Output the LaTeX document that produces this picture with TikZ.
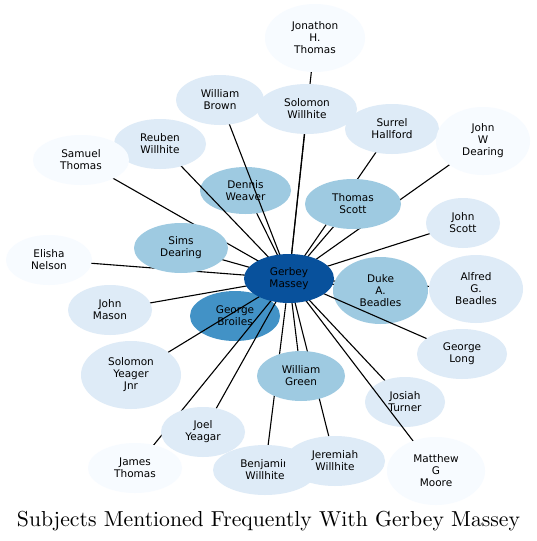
\documentclass[tikz,border=0pt]{standalone}
\usepackage{fontspec}
\setmainfont{Latin Modern Roman}
\newfontfamily\nodefont{DejaVu Sans}
\usetikzlibrary{shapes.geometric}
\definecolor{cA}{HTML}{F7FBFF}
\definecolor{cB}{HTML}{DEEBF7}
\definecolor{cC}{HTML}{9ECAE1}
\definecolor{cD}{HTML}{4292C6}
\definecolor{cE}{HTML}{08519C}
\pgfdeclarelayer{bg}
\pgfdeclarelayer{edgeA}
\pgfdeclarelayer{nodeA}
\pgfdeclarelayer{edgeB}
\pgfsetlayers{bg,edgeA,nodeA,edgeB,main}
\tikzset{
  pn/.style={ellipse, draw=none, inner sep=0pt, align=center,
    font=\nodefont\fontsize{10.5}{12}\selectfont, text=black},
  sm/.style={pn, minimum width=#1, minimum height=50},
  lg/.style={pn, minimum width=#1, minimum height=68},
  link/.style={draw=black, line width=1.1pt},
}
\begin{document}
\begin{tikzpicture}[x=1pt,y=-1pt]
\begin{pgfonlayer}{bg}
\fill[white] (0,0) rectangle (537,541);
\end{pgfonlayer}
\useasboundingbox (0,0) rectangle (537,541);
% nodes (main layer)
\node[lg=100, fill=cA] (jht) at (315,38) {Jonathon\\H.\\Thomas};
\node[sm=88, fill=cB] (wb) at (220,100) {William\\Brown};
\node[sm=100, fill=cB] (sw) at (307,109) {Solomon\\Willhite};
\node[sm=94, fill=cB] (sh) at (392,129) {Surrel\\Hallford};
\node[lg=94, fill=cA] (jwd) at (483,141) {John\\W\\Dearing};
\node[sm=92, fill=cB] (rw) at (160,144) {Reuben\\Willhite};
\node[sm=96, fill=cA] (st) at (81,160) {Samuel\\Thomas};
\node[sm=96, fill=cC] (ts) at (353,204) {Thomas\\Scott};
\node[sm=74, fill=cB] (js) at (463,223) {John\\Scott};
\node[sm=94, fill=cC] (sd) at (181,248) {Sims\\Dearing};
\node[sm=86, fill=cA] (en) at (49,260) {Elisha\\Nelson};
\node[lg=94, fill=cB] (agb) at (476,289) {Alfred\\G.\\Beadles};
\node[sm=84, fill=cB] (jm) at (110,310) {John\\Mason};
\node[sm=90, fill=cB] (gl) at (462,354) {George\\Long};
\node[lg=100, fill=cB] (syj) at (131,375) {Solomon\\Yeager\\Jnr};
\node[sm=88, fill=cC] (wg) at (301,376) {William\\Green};
\node[sm=84, fill=cB] (jy) at (203,432) {Joel\\Yeagar};
\node[sm=94, fill=cA] (jt) at (135,468) {James\\Thomas};
\node[sm=104, fill=cB] (bw) at (265,470) {Benjamin\\Willhite};
\node[sm=100, fill=cB] (jw) at (335,461) {Jeremiah\\Willhite};
\node[lg=98, fill=cA] (mgm) at (436,471) {Matthew\\G\\Moore};
\node[sm=90, minimum height=49, fill=cE] (g) at (289,278.5) {Gerbey\\Massey};
% nodes under some edges
\begin{pgfonlayer}{nodeA}
\node[sm=91, minimum height=47, fill=cC] (dw) at (245.5,190.5) {Dennis\\Weaver};
\node[sm=90, fill=cD] (gb) at (235,316) {George\\Broiles};
\node[sm=80, fill=cB] (jtu) at (405,402) {Josiah\\Turner};
\node[sm=95, minimum height=67, fill=cC] (dab) at (380.5,290.5) {Duke\\A.\\Beadles};
\end{pgfonlayer}
% edges below those nodes
\begin{pgfonlayer}{edgeA}
\foreach \t in {jht,sw,sh,jwd,st,dw,ts,js,sd,en,agb,dab,jm,gb,wg,jtu,bw,jw}
  \draw[link] (g.center) -- (\t.center);
\end{pgfonlayer}
% edges above those nodes
\begin{pgfonlayer}{edgeB}
\foreach \t in {wb,rw,jy,syj,jt,mgm,gl}
  \draw[link] (g.center) -- (\t.center);
\end{pgfonlayer}
\node[anchor=base] (title) at (268.5,526) {\resizebox{503pt}{!}{Subjects Mentioned Frequently With Gerbey Massey}};
\end{tikzpicture}
\end{document}
